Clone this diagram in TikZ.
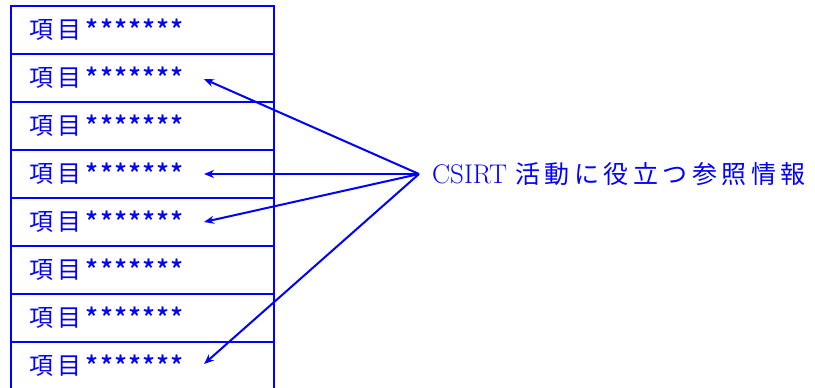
\documentclass[tikz,border=0pt]{standalone}
\usepackage{fontspec}
\usepackage{xcolor}
\usepackage{tikz}
\usetikzlibrary{arrows.meta, positioning, calc}
\newfontfamily\jpitem[LetterSpace=15]{Noto Sans CJK JP}
\newfontfamily\jpstar[LetterSpace=4]{Noto Sans CJK JP Medium}
\newfontfamily\jplabel[LetterSpace=18]{Noto Sans CJK JP}
\definecolor{itemblue}{HTML}{0000FF}
\newcommand{\itemtext}{項\hspace{5pt}目\hspace{4pt}{\jpstar\fontsize{27}{28}\selectfont\raisebox{-2pt}{*******}}}

\begin{document}
\begin{tikzpicture}[
  x=1pt, y=-1pt,
  node distance=0pt,
  item/.style={draw=itemblue, line width=2pt, outer sep=0pt, minimum height=48pt, text width=227pt, inner xsep=18pt, align=left, text=itemblue, font=\jpitem\fontsize{24}{26}\selectfont},
  info/.style={text=itemblue, inner xsep=13pt, font=\fontsize{27}{28}\selectfont},
  arr/.style={-{Stealth[length=10pt, width=8pt]}, line width=2pt, draw=itemblue},
]
  \useasboundingbox (0,0) rectangle (815,388);
  \clip (0,0) rectangle (815,388);

  \node[item, anchor=north west] (item1) at (11,6) {\itemtext};
  \node[item, below=of item1] (item2) {\itemtext};
  \node[item, below=of item2] (item3) {\itemtext};
  \node[item, below=of item3] (item4) {\itemtext};
  \node[item, below=of item4] (item5) {\itemtext};
  \node[item, below=of item5] (item6) {\itemtext};
  \node[item, below=of item6] (item7) {\itemtext};
  \node[item, below=of item7] (item8) {\itemtext};

  \coordinate (hub) at (419,174);
  \node[info, anchor=west] (ref) at (hub) {CSIRT {\jplabel\fontsize{25}{28}\selectfont 活動に役立つ参照情報}};

  % arrow ends just after the asterisks
  \coordinate (end2) at ($(item2.west)+(193,1)$);
  \coordinate (end4) at ($(item4.west)+(193,0)$);
  \coordinate (end5) at ($(item5.west)+(193,0)$);
  \coordinate (end8) at ($(item8.west)+(193,-2)$);

  \draw[arr] (ref.west) -- (end2);
  \draw[arr] (ref.west) -- (end4);
  \draw[arr] (ref.west) -- (end5);
  \draw[arr] (ref.west) -- (end8);
\end{tikzpicture}
\end{document}
